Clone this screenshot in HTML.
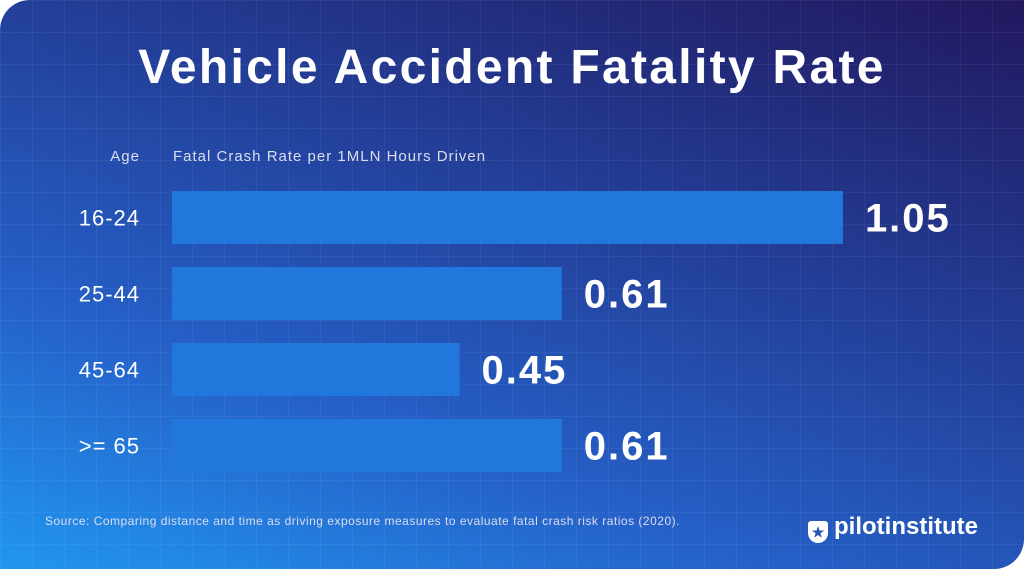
<!DOCTYPE html>
<html><head><meta charset="utf-8"><style>
body{margin:0;width:1024px;height:569px;background:#fff;overflow:hidden;font-family:"Liberation Sans",sans-serif}
#card{position:absolute;left:0;top:0;width:1024px;height:569px;border-radius:30px 0 30px 0;overflow:hidden;
background:linear-gradient(20deg,#2196f0 0%,#2560c8 30%,#23409a 60%,#22185e 100%)}
#grid{position:absolute;inset:0;background-image:linear-gradient(rgba(255,255,255,.05) 1px,transparent 1px),linear-gradient(90deg,rgba(255,255,255,.05) 1px,transparent 1px);background-size:32px 32px}
.t{position:absolute;color:#fff;white-space:nowrap}
</style></head><body>
<div id="card"><div id="grid"></div>
<div class="t" style="left:0;width:1024px;text-align:center;top:40px;font-size:48px;font-weight:bold;letter-spacing:2.3px">Vehicle Accident Fatality Rate</div>
<div class="t" style="right:884px;top:148px;font-size:15px;letter-spacing:1px;color:#dde">Age</div>
<div class="t" style="left:173px;top:148px;font-size:15px;letter-spacing:1px;color:#dde">Fatal Crash Rate per 1MLN Hours Driven</div>
<svg id="chart" width="1024" height="569" style="position:absolute;left:0;top:0"></svg>
<div class="t" style="left:45px;top:514px;font-size:12px;letter-spacing:0.5px;color:#dde">Source: Comparing distance and time as driving exposure measures to evaluate fatal crash risk ratios (2020).</div>
<div class="t" style="left:808px;top:513px;font-size:24px;font-weight:bold"><span style="display:inline-block;width:20px;height:22px;background:#fff;border-radius:3px 3px 10px 10px;vertical-align:-3px;margin-right:6px;color:#2555b8;font-size:14px;text-align:center;line-height:22px">★</span>pilotinstitute</div>
</div>
<script>
const categories=["16-24","25-44","45-64",">= 65"];
const values=[1.05,0.61,0.45,0.61];
const labels=["1.05","0.61","0.45","0.61"];
const svg=document.getElementById('chart');const NS='http://www.w3.org/2000/svg';
const x0=172,scale=639,y0=191,step=76,bh=53;
const xs=v=>x0+v*scale, ys=i=>y0+i*step;
categories.forEach((c,i)=>{
 const r=document.createElementNS(NS,'rect');
 r.setAttribute('x',x0);r.setAttribute('y',ys(i));r.setAttribute('width',xs(values[i])-x0);r.setAttribute('height',bh);r.setAttribute('fill','#2277dd');
 
 
 svg.appendChild(r);
 const t=document.createElementNS(NS,'text');
 t.setAttribute('x',140);t.setAttribute('y',ys(i)+bh/2+8);t.setAttribute('text-anchor','end');t.setAttribute('fill','#fff');t.setAttribute('font-size','22');t.setAttribute('letter-spacing','1');t.textContent=c;
 
 
 svg.appendChild(t);
 const v=document.createElementNS(NS,'text');
 v.setAttribute('x',xs(values[i])+22);v.setAttribute('y',ys(i)+bh/2+14);v.setAttribute('fill','#fff');v.setAttribute('font-size','40');v.setAttribute('font-weight','bold');v.setAttribute('letter-spacing','2');v.textContent=labels[i];
 
 
 svg.appendChild(v);
});
</script>
</body></html>
